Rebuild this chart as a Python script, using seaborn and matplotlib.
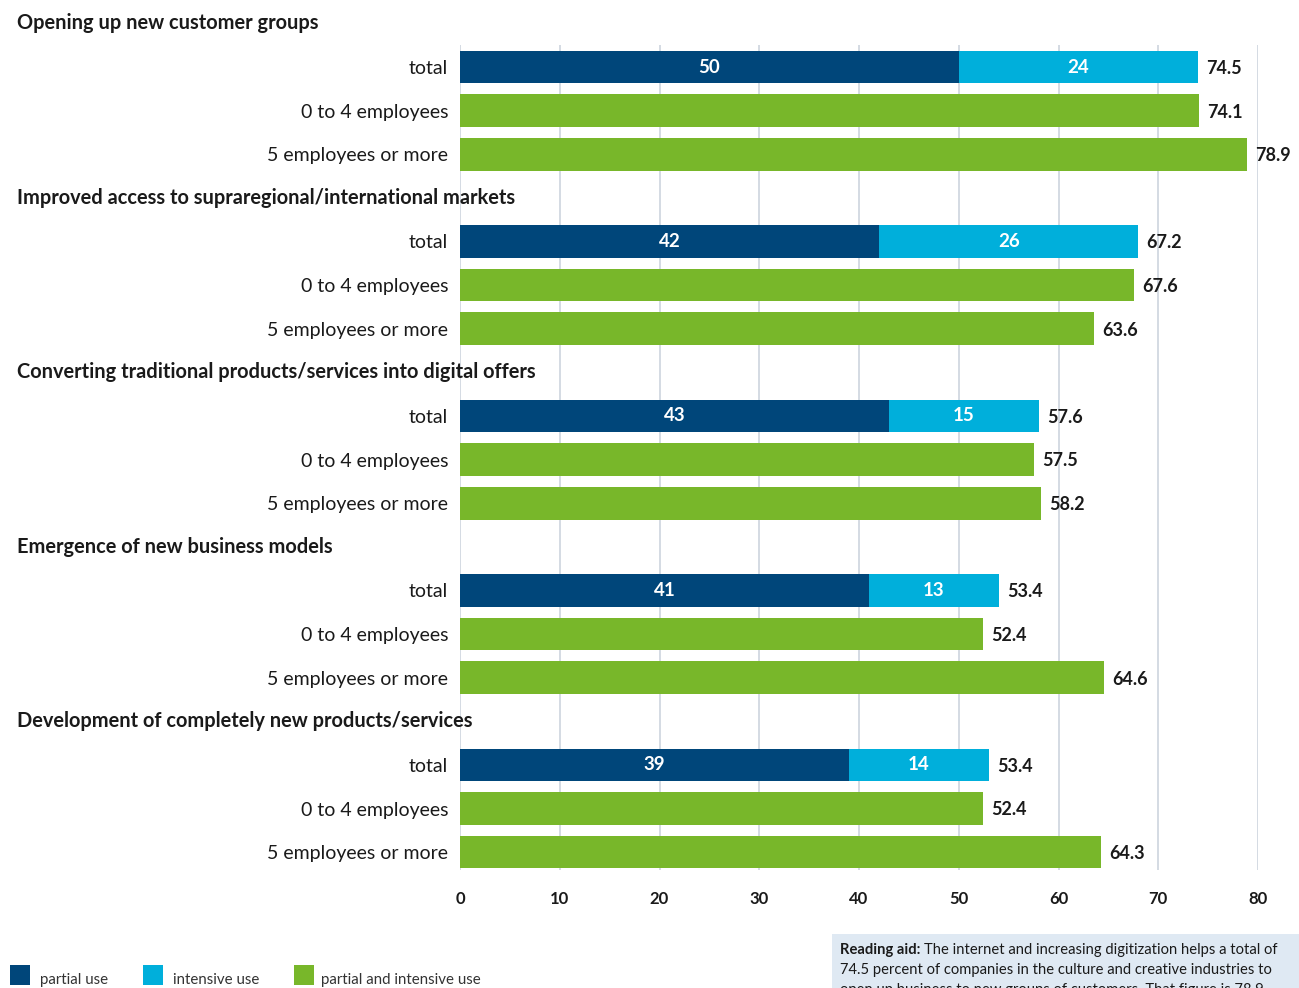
import matplotlib
matplotlib.use("Agg")
import matplotlib.pyplot as plt
from matplotlib.patches import Rectangle
from matplotlib.transforms import blended_transform_factory
import pandas as pd
import seaborn as sns

# ---- data -------------------------------------------------------------
themes = [
    "Opening up new customer groups",
    "Improved access to supraregional/international markets",
    "Converting traditional products/services into digital offers",
    "Emergence of new business models",
    "Development of completely new products/services",
]
row_labels = ["total", "0 to 4 employees", "5 employees or more"]
partial_use = [50, 42, 43, 41, 39]
intensive_use = [24, 26, 15, 13, 14]
total_share = [74.5, 67.2, 57.6, 53.4, 53.4]
small_firms = [74.1, 67.6, 57.5, 52.4, 52.4]
larger_firms = [78.9, 63.6, 58.2, 64.6, 64.3]
x_ticks = [0, 10, 20, 30, 40, 50, 60, 70, 80]
legend_labels = ["partial use", "intensive use", "partial and intensive use"]
note_lines = [
    "The internet and increasing digitization helps a total of",
    "74.5 percent of companies in the culture and creative industries to",
    "open up business to new groups of customers. That figure is 78.9",
]

BLUE, CYAN, GREEN = "#00467a", "#00afdb", "#78b72a"
GRID = "#c9d1db"
TEXT = "#1a1a1a"

sns.set_theme(style="white")
plt.rcParams["font.family"] = ["Lato", "DejaVu Sans"]

# ---- long table: one header slot + three bar rows per theme -------------
order, tick_text, rows = [], [], []
for g, theme in enumerate(themes):
    order.append(f"{g}:head")
    tick_text.append("")
    for r, lab in enumerate(row_labels):
        key = f"{g}:{r}"
        order.append(key)
        tick_text.append(lab)
        if r == 0:
            rows.append(dict(row=key, value=partial_use[g] + intensive_use[g],
                             kind=legend_labels[1], label=total_share[g]))
        elif r == 1:
            rows.append(dict(row=key, value=small_firms[g],
                             kind=legend_labels[2], label=small_firms[g]))
        else:
            rows.append(dict(row=key, value=larger_firms[g],
                             kind=legend_labels[2], label=larger_firms[g]))
df = pd.DataFrame(rows)
df_partial = pd.DataFrame({"row": [f"{g}:0" for g in range(len(themes))],
                           "value": partial_use})

W, H = 1299, 988
fig = plt.figure(figsize=(W / 100, H / 100), dpi=100)
ax = fig.add_axes([460 / W, 1 - 870 / H, (1258 - 460) / W, (870 - 45) / H])

palette = {legend_labels[1]: CYAN, legend_labels[2]: GREEN}
sns.barplot(data=df, x="value", y="row", order=order, hue="kind",
            palette=palette, dodge=False, width=0.75, orient="h",
            saturation=1, legend=False, errorbar=None, ax=ax)
sns.barplot(data=df_partial, x="value", y="row", order=order, color=BLUE,
            width=0.75, orient="h", saturation=1, errorbar=None, ax=ax)

for p in ax.patches:
    p.set_linewidth(0)

ax.set_xticks(x_ticks)
ax.set_xticklabels([str(t) for t in x_ticks], fontsize=12, fontweight="bold",
                   color=TEXT)
ax.set_yticks(range(len(order)))
ax.set_yticklabels(tick_text, fontsize=14, color=TEXT)
ax.set_xlim(0, 80)
ax.set_ylim(19.41, 0.495)
ax.tick_params(axis="y", length=0, pad=8.6)
ax.tick_params(axis="x", length=4, color=GRID, pad=11)
ax.set_xlabel("")
ax.set_ylabel("")
ax.xaxis.grid(True, color=GRID, linewidth=1.1)
ax.set_axisbelow(True)
for s in ax.spines.values():
    s.set_visible(False)

# theme headings
head_tf = blended_transform_factory(fig.transFigure, ax.transData)
for g, theme in enumerate(themes):
    ax.text(17 / W, order.index(f"{g}:head"), theme, transform=head_tf,
            ha="left", va="center", fontsize=14.4, fontweight="bold",
            color=TEXT, clip_on=False)

# value labels
for g in range(len(themes)):
    y0 = order.index(f"{g}:0")
    ax.text(partial_use[g] / 2, y0, f"{partial_use[g]}", ha="center",
            va="center", color="white", fontsize=13.5, fontweight="bold")
    ax.text(partial_use[g] + intensive_use[g] / 2, y0, f"{intensive_use[g]}",
            ha="center", va="center", color="white", fontsize=13.5,
            fontweight="bold")
for _, rw in df.iterrows():
    ax.annotate(f"{rw['label']:.1f}", xy=(rw["value"], order.index(rw["row"])),
                xytext=(6, -1), textcoords="offset points", ha="left",
                va="center", fontsize=13, fontweight="bold", color=TEXT,
                annotation_clip=False)

# legend
for (xs, xt), lab, col in zip([(10, 40), (143, 173), (294, 321)],
                              legend_labels, [BLUE, CYAN, GREEN]):
    fig.patches.append(Rectangle((xs / W, 1 - 985 / H), 20 / W, 20 / H,
                                 transform=fig.transFigure, facecolor=col,
                                 edgecolor="none"))
    fig.text(xt / W, 1 - 984 / H, lab, ha="left", va="baseline",
             fontsize=10.8, color="#333333")

# reading aid box
fig.patches.append(Rectangle((832 / W, 0), (W - 832) / W, (988 - 934) / H,
                             transform=fig.transFigure, facecolor="#dfe9f3",
                             edgecolor="none"))
fig.canvas.draw()
renderer = fig.canvas.get_renderer()
bold = fig.text(840 / W, 1 - 950 / H, "Reading aid:", ha="left",
                va="center", fontsize=10.6, fontweight="bold", color=TEXT)
bb = bold.get_window_extent(renderer=renderer)
fig.text((bb.x1 + 4) / W, 1 - 950 / H, note_lines[0], ha="left",
         va="center", fontsize=10.6, color=TEXT)
for i, line in enumerate(note_lines[1:]):
    fig.text(840 / W, 1 - (970 + 20 * i) / H, line, ha="left", va="center",
             fontsize=10.6, color=TEXT)

fig.savefig("out.png", dpi=100)
